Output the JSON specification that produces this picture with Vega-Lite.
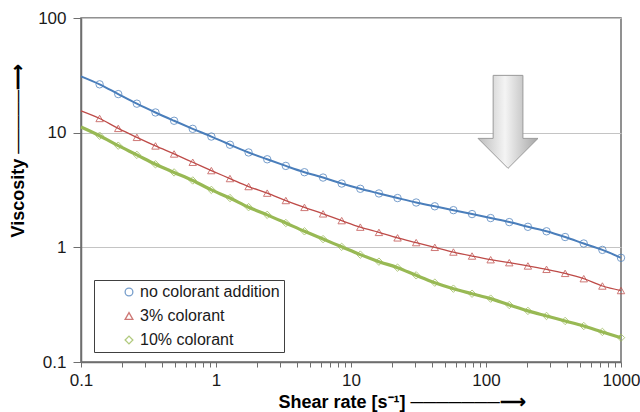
{
  "$schema": "https://vega.github.io/schema/vega-lite/v6.json",
  "width": 540,
  "height": 344,
  "autosize": {"type": "none"},
  "padding": {"left": 81, "top": 18, "right": 19, "bottom": 50},
  "background": "white",
  "config": {
    "view": {"stroke": "#6e6e6e", "strokeWidth": 1.5},
    "font": "Liberation Sans",
    "axis": {
      "labelFont": "Liberation Sans",
      "titleFont": "Liberation Sans",
      "labelColor": "#1a1a1a",
      "titleColor": "#000000",
      "domainColor": "#6e6e6e",
      "tickColor": "#6e6e6e",
      "domainWidth": 1.5,
      "labelFlush": false,
      "labelOverlap": false
    }
  },
  "datasets": {
    "visc": [
      {"x": 0.1, "no colorant addition": 31, "3% colorant": 15.5, "10% colorant": 11.2},
      {"x": 0.13738, "no colorant addition": 26.4, "3% colorant": 13.3, "10% colorant": 9.4},
      {"x": 0.18874, "no colorant addition": 21.7, "3% colorant": 10.9, "10% colorant": 7.7},
      {"x": 0.25929, "no colorant addition": 17.9, "3% colorant": 9.1, "10% colorant": 6.4},
      {"x": 0.35622, "no colorant addition": 15.0, "3% colorant": 7.66, "10% colorant": 5.3},
      {"x": 0.48939, "no colorant addition": 12.7, "3% colorant": 6.52, "10% colorant": 4.5},
      {"x": 0.67234, "no colorant addition": 10.8, "3% colorant": 5.52, "10% colorant": 3.83},
      {"x": 0.92367, "no colorant addition": 9.25, "3% colorant": 4.67, "10% colorant": 3.17},
      {"x": 1.269, "no colorant addition": 7.85, "3% colorant": 3.98, "10% colorant": 2.69},
      {"x": 1.7433, "no colorant addition": 6.72, "3% colorant": 3.39, "10% colorant": 2.24},
      {"x": 2.395, "no colorant addition": 5.86, "3% colorant": 2.97, "10% colorant": 1.92},
      {"x": 3.2903, "no colorant addition": 5.13, "3% colorant": 2.56, "10% colorant": 1.63},
      {"x": 4.5204, "no colorant addition": 4.52, "3% colorant": 2.23, "10% colorant": 1.38},
      {"x": 6.2102, "no colorant addition": 4.06, "3% colorant": 1.96, "10% colorant": 1.18},
      {"x": 8.5317, "no colorant addition": 3.6, "3% colorant": 1.71, "10% colorant": 1.01},
      {"x": 11.721, "no colorant addition": 3.24, "3% colorant": 1.5, "10% colorant": 0.864},
      {"x": 16.103, "no colorant addition": 2.95, "3% colorant": 1.35, "10% colorant": 0.75},
      {"x": 22.122, "no colorant addition": 2.69, "3% colorant": 1.21, "10% colorant": 0.665},
      {"x": 30.392, "no colorant addition": 2.46, "3% colorant": 1.1, "10% colorant": 0.57},
      {"x": 41.753, "no colorant addition": 2.28, "3% colorant": 1.0, "10% colorant": 0.492},
      {"x": 57.362, "no colorant addition": 2.11, "3% colorant": 0.91, "10% colorant": 0.436},
      {"x": 78.805, "no colorant addition": 1.95, "3% colorant": 0.84, "10% colorant": 0.394},
      {"x": 108.26, "no colorant addition": 1.8, "3% colorant": 0.78, "10% colorant": 0.357},
      {"x": 148.74, "no colorant addition": 1.66, "3% colorant": 0.735, "10% colorant": 0.314},
      {"x": 204.34, "no colorant addition": 1.51, "3% colorant": 0.688, "10% colorant": 0.279},
      {"x": 280.72, "no colorant addition": 1.38, "3% colorant": 0.643, "10% colorant": 0.252},
      {"x": 385.66, "no colorant addition": 1.23, "3% colorant": 0.593, "10% colorant": 0.228},
      {"x": 529.83, "no colorant addition": 1.08, "3% colorant": 0.533, "10% colorant": 0.206},
      {"x": 727.9, "no colorant addition": 0.95, "3% colorant": 0.46, "10% colorant": 0.183},
      {"x": 1000, "no colorant addition": 0.81, "3% colorant": 0.42, "10% colorant": 0.163}
    ],
    "arrow": [{"x": 145.6, "y": 12.42}]
  },
  "layer": [
    {
      "data": {"name": "visc"},
      "transform": [
        {"fold": ["no colorant addition", "3% colorant", "10% colorant"], "as": ["series", "v"]}
      ],
      "encoding": {
        "x": {"field": "x", "type": "quantitative"},
        "y": {"field": "v", "type": "quantitative"},
        "color": {"field": "series", "type": "nominal"}
      },
      "layer": [
        {
          "transform": [{"filter": "datum.series === 'no colorant addition'"}],
          "mark": {"type": "line", "interpolate": "monotone", "strokeWidth": 2},
          "encoding": {
            "x": {
              "field": "x",
              "type": "quantitative",
              "scale": {"type": "log", "domain": [0.1, 1000]},
              "axis": {
                "values": [0.1, 0.2, 0.3, 0.4, 0.5, 0.6, 0.7, 0.8, 0.9, 1, 2, 3, 4, 5, 6, 7, 8, 9, 10, 20, 30, 40, 50, 60, 70, 80, 90, 100, 200, 300, 400, 500, 600, 700, 800, 900, 1000],
                "format": "~g",
                "labelExpr": "indexof([0.1, 1, 10, 100, 1000], datum.value) >= 0 ? datum.label : ''",
                "labelFontSize": 17,
                "tickSize": 5,
                "labelPadding": 5,
                "grid": false,
                "title": "Shear rate [s⁻¹]   ───────⟶",
                "titleFontSize": 18,
                "titleFontWeight": "bold",
                "titleAlign": "left",
                "titleBaseline": "alphabetic",
                "titleX": 197,
                "titleY": 45
              }
            },
            "y": {
              "field": "v",
              "type": "quantitative",
              "scale": {"type": "log", "domain": [0.1, 100]},
              "axis": {
                "values": [0.1, 1, 10, 100],
                "format": "~g",
                "labelFontSize": 17,
                "tickSize": 8,
                "labelPadding": 7,
                "grid": true,
                "gridColor": "#c4c4c4",
                "gridWidth": 1,
                "title": "Viscosity  ─────⟶",
                "titleFontSize": 18,
                "titleFontWeight": "bold",
                "titleAlign": "left",
                "titleBaseline": "middle",
                "titleAngle": -90,
                "titleX": -63,
                "titleY": 219
              }
            },
            "color": {
              "field": "series",
              "type": "nominal",
              "scale": {
                "domain": ["no colorant addition", "3% colorant", "10% colorant"],
                "range": ["#4a7ebb", "#be4b48", "#98b954"]
              },
              "legend": {
                "orient": "none",
                "legendX": 13,
                "legendY": 262,
                "title": null,
                "direction": "vertical",
                "padding": 4,
                "strokeColor": "#404040",
                "fillColor": "white",
                "labelFontSize": 16,
                "labelFont": "Liberation Sans",
                "labelColor": "#1a1a1a",
                "symbolSize": 60,
                "symbolStrokeWidth": 1.3,
                "symbolOffset": 23,
                "labelOffset": 3,
                "rowPadding": 8
              }
            }
          }
        },
        {
          "transform": [{"filter": "datum.series === '3% colorant'"}],
          "mark": {"type": "line", "interpolate": "monotone", "strokeWidth": 1.3}
        },
        {
          "transform": [{"filter": "datum.series === '10% colorant'"}],
          "mark": {"type": "line", "interpolate": "monotone", "strokeWidth": 3.2}
        },
        {
          "transform": [{"filter": "datum.x > 0.11"}],
          "mark": {"type": "point", "filled": false, "size": 55, "strokeWidth": 1, "opacity": 0.75},
          "encoding": {
            "shape": {
              "field": "series",
              "type": "nominal",
              "scale": {
                "domain": ["no colorant addition", "3% colorant", "10% colorant"],
                "range": ["circle", "triangle-up", "diamond"]
              },
              "legend": null
            }
          }
        }
      ]
    },
    {
      "data": {"name": "arrow"},
      "mark": {
        "type": "point",
        "shape": "M-0.32,-1L0.32,-1L0.32,0.355L0.645,0.355L0,1L-0.645,0.355L-0.32,0.355Z",
        "size": 8649,
        "filled": true,
        "opacity": 1,
        "fill": {
          "gradient": "linear",
          "x1": 0, "y1": 0, "x2": 1, "y2": 0,
          "stops": [
            {"offset": 0, "color": "#bdbdbd"},
            {"offset": 0.45, "color": "#f4f4f4"},
            {"offset": 1, "color": "#a6a6a6"}
          ]
        },
        "stroke": "#9a9a9a",
        "strokeWidth": 1
      },
      "encoding": {
        "x": {"field": "x", "type": "quantitative"},
        "y": {"field": "y", "type": "quantitative"}
      }
    }
  ]
}
